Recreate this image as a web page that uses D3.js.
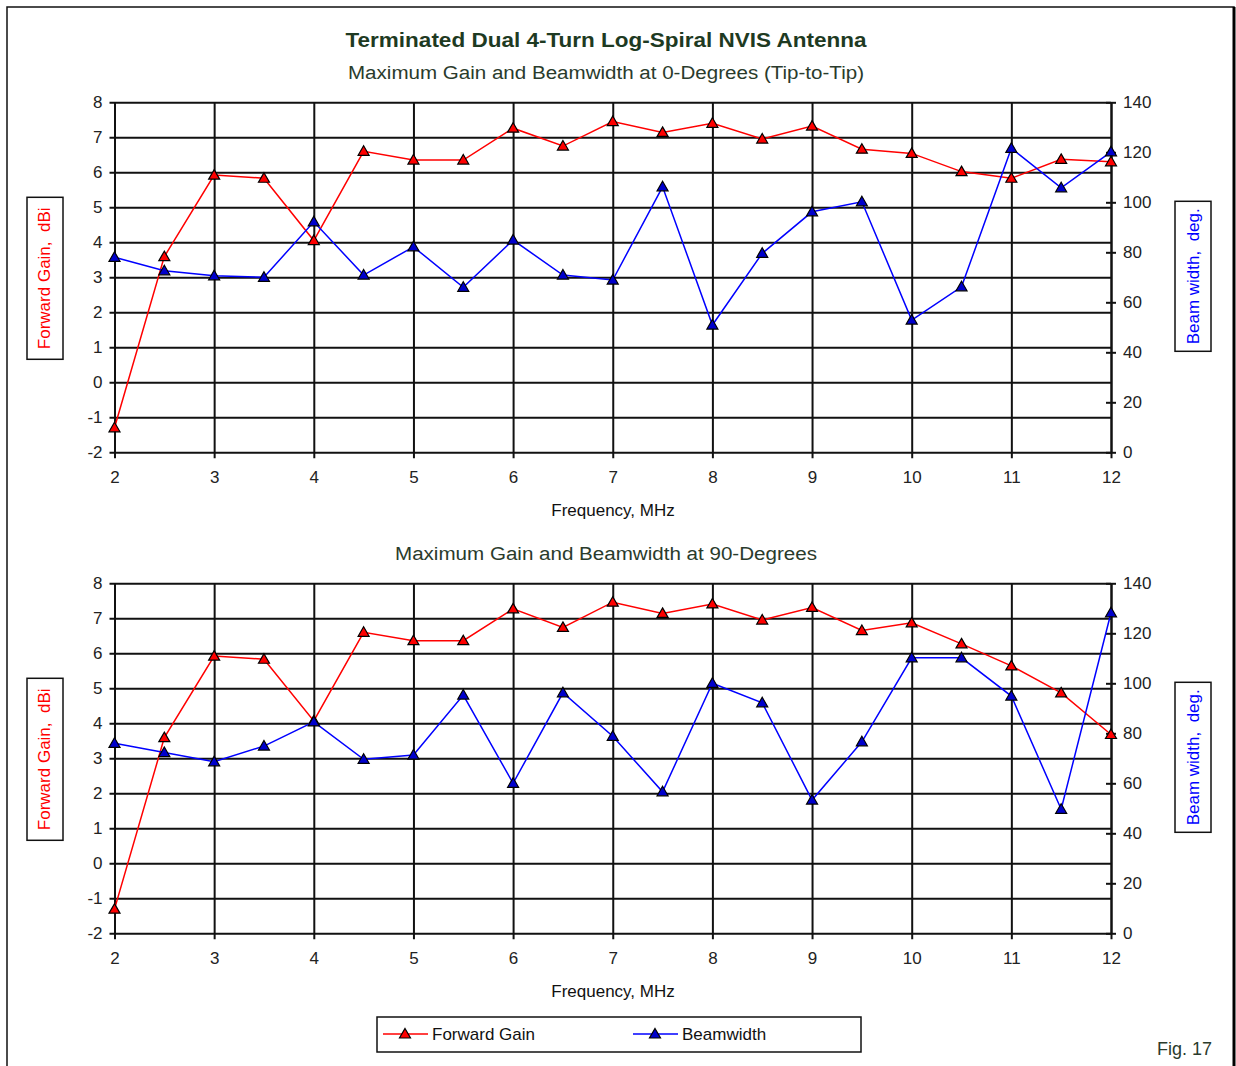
<!DOCTYPE html>
<html>
<head>
<meta charset="utf-8">
<script src="https://cdn.jsdelivr.net/npm/d3@7"></script>
<style>
  body { margin: 0; background: #fff; }
  svg { display: block; font-family: "Liberation Sans", Arial, sans-serif; }
</style>
</head>
<body>
<div id="chart"></div>
<script>
// frequency points, MHz
const freq = [2, 2.5, 3, 3.5, 4, 4.5, 5, 5.5, 6, 6.5, 7, 7.5, 8, 8.5, 9, 9.5, 10, 10.5, 11, 11.5, 12];

// 0-degree (tip-to-tip) panel
const gain0 = [-1.3, 3.59, 5.92, 5.83, 4.05, 6.6, 6.35, 6.35, 7.26, 6.75, 7.45, 7.14, 7.4, 6.95, 7.32, 6.66, 6.54, 6.02, 5.83, 6.37, 6.3];
const beam0 = [78, 72.6, 70.6, 70, 92.2, 70.9, 82.2, 66, 84.9, 70.9, 68.9, 106.2, 50.9, 79.6, 96.2, 100.2, 52.9, 66.2, 121.6, 105.8, 120.2];

// 90-degree panel
const gain90 = [-1.31, 3.59, 5.92, 5.83, 4.07, 6.6, 6.36, 6.36, 7.27, 6.74, 7.46, 7.14, 7.41, 6.95, 7.31, 6.65, 6.87, 6.27, 5.64, 4.87, 3.68];
const beam90 = [76, 72.3, 68.6, 74.9, 84.6, 69.6, 71.3, 95.3, 60, 96.2, 78.8, 56.6, 100, 92.2, 53.3, 76.6, 110.2, 110.2, 94.9, 49.6, 128.2];

const freqTicks = [2, 3, 4, 5, 6, 7, 8, 9, 10, 11, 12];
const gainTicks = [-2, -1, 0, 1, 2, 3, 4, 5, 6, 7, 8];
const beamTicks = [0, 20, 40, 60, 80, 100, 120, 140];

const width = 1236, height = 1066;
const plotLeft = 114.5, plotRight = 1111;
const titleColor = '#1e3a22';
const plain = d => String(d); // keep ascii hyphen for negatives, like the original

const svg = d3.select('#chart').append('svg')
    .attr('width', width).attr('height', height);

// outer frame
svg.append('rect')
    .attr('x', 7).attr('y', 7).attr('width', 1227).attr('height', 1075)
    .attr('fill', 'none').attr('stroke', '#111').attr('stroke-width', 1.5);
svg.append('line')
    .attr('x1', 1234).attr('x2', 1234).attr('y1', 7).attr('y2', height)
    .attr('stroke', '#000').attr('stroke-width', 3);

const x = d3.scaleLinear().domain([2, 12]).range([plotLeft, plotRight]);

// triangle marker, point at centre
const tri = 'M0,-5.5 L5.5,4 L-5.5,4 Z';

svg.append('text')
    .attr('x', 606).attr('y', 47)
    .attr('text-anchor', 'middle')
    .attr('font-size', 21).attr('font-weight', 'bold')
    .attr('fill', titleColor)
    .attr('textLength', 521).attr('lengthAdjust', 'spacingAndGlyphs')
    .text('Terminated Dual 4-Turn Log-Spiral NVIS Antenna');

function drawPanel(top, subtitle, gain, beam) {
    const bottom = top + 350;
    const yL = d3.scaleLinear().domain([-2, 8]).range([bottom, top]);
    const yR = d3.scaleLinear().domain([0, 140]).range([bottom, top]);
    const g = svg.append('g');

    g.append('text')
        .attr('x', 606).attr('y', top - 23)
        .attr('text-anchor', 'middle')
        .attr('font-size', 18)
        .attr('fill', '#2a3b2c')
        .attr('textLength', subtitle.length > 45 ? 516 : 422).attr('lengthAdjust', 'spacingAndGlyphs')
        .text(subtitle);

    // horizontal grid from left axis
    g.append('g').call(d3.axisLeft(yL).tickValues(gainTicks).tickFormat(plain).tickSize(-(plotRight - plotLeft)).tickSizeOuter(0).tickPadding(12))
        .attr('transform', 'translate(' + plotLeft + ',0)')
        .call(a => a.select('.domain').remove())
        .call(a => a.selectAll('line').attr('stroke', '#111').attr('stroke-width', 2).attr('x1', -5))
        .call(a => a.selectAll('text').attr('font-size', 17).attr('fill', '#222').attr('font-family', '"Liberation Sans", Arial, sans-serif'));

    // vertical grid from x axis
    g.append('g').call(d3.axisBottom(x).tickValues(freqTicks).tickFormat(plain).tickSize(-(bottom - top)).tickSizeOuter(0).tickPadding(19))
        .attr('transform', 'translate(0,' + bottom + ')')
        .call(a => a.select('.domain').remove())
        .call(a => a.selectAll('line').attr('stroke', '#111').attr('stroke-width', 2).attr('y1', 6))
        .call(a => a.selectAll('text').attr('font-size', 17).attr('fill', '#222').attr('font-family', '"Liberation Sans", Arial, sans-serif'));

    // right axis ticks
    g.append('g').call(d3.axisRight(yR).tickValues(beamTicks).tickFormat(plain).tickSize(5).tickSizeOuter(0).tickPadding(7))
        .attr('transform', 'translate(' + plotRight + ',0)')
        .call(a => a.select('.domain').attr('stroke', '#111').attr('stroke-width', 2))
        .call(a => a.selectAll('line').attr('stroke', '#111').attr('stroke-width', 2).attr('x1', -5))
        .call(a => a.selectAll('text').attr('font-size', 17).attr('fill', '#222').attr('font-family', '"Liberation Sans", Arial, sans-serif'));

    g.append('text')
        .attr('x', 613).attr('y', bottom + 64)
        .attr('text-anchor', 'middle')
        .attr('font-size', 17).attr('fill', '#111')
        .text('Frequency, MHz');

    // axis title boxes
    g.append('rect').attr('x', 27).attr('y', top + 95).attr('width', 36).attr('height', 162)
        .attr('fill', 'none').attr('stroke', '#111').attr('stroke-width', 1.5);
    g.append('text')
        .attr('transform', 'translate(50,' + (top + 176) + ') rotate(-90)')
        .attr('text-anchor', 'middle').attr('font-size', 17).attr('fill', '#ff0000')
        .attr('xml:space', 'preserve')
        .text('Forward Gain,  dBi');

    g.append('rect').attr('x', 1175).attr('y', top + 99).attr('width', 36).attr('height', 150)
        .attr('fill', 'none').attr('stroke', '#111').attr('stroke-width', 1.5);
    g.append('text')
        .attr('transform', 'translate(1199,' + (top + 174) + ') rotate(-90)')
        .attr('text-anchor', 'middle').attr('font-size', 17).attr('fill', '#0000ff')
        .attr('xml:space', 'preserve')
        .text('Beam width,  deg.');

    const series = [
        { vals: gain, y: yL, color: '#ff0000', fill: '#ff0000' },
        { vals: beam, y: yR, color: '#0000ff', fill: '#0000cc' }
    ];
    series.forEach(s => {
        const pts = freq.map((f, i) => ({ f: f, v: s.vals[i] }));
        g.append('path')
            .datum(pts)
            .attr('fill', 'none')
            .attr('stroke', s.color)
            .attr('stroke-width', 1.5)
            .attr('d', d3.line().x(d => x(d.f)).y(d => s.y(d.v)));
        g.selectAll(null)
            .data(pts)
            .enter()
            .append('path')
            .attr('d', tri)
            .attr('transform', d => 'translate(' + x(d.f) + ',' + s.y(d.v) + ')')
            .attr('fill', s.fill)
            .attr('stroke', '#000')
            .attr('stroke-width', 1.2);
    });
}

drawPanel(102.3, 'Maximum Gain and Beamwidth at 0-Degrees (Tip-to-Tip)', gain0, beam0);
drawPanel(583.3, 'Maximum Gain and Beamwidth at 90-Degrees', gain90, beam90);

// legend
const legendItems = [
    { label: 'Forward Gain', color: '#ff0000', fill: '#ff0000', x0: 383 },
    { label: 'Beamwidth', color: '#0000ff', fill: '#0000cc', x0: 633 }
];
const legend = svg.append('g');
legend.append('rect').attr('x', 377).attr('y', 1017).attr('width', 484).attr('height', 35)
    .attr('fill', '#fff').attr('stroke', '#111').attr('stroke-width', 1.5);
legendItems.forEach(d => {
    legend.append('line').attr('x1', d.x0).attr('x2', d.x0 + 45).attr('y1', 1034).attr('y2', 1034)
        .attr('stroke', d.color).attr('stroke-width', 1.5);
    legend.append('path').attr('d', tri)
        .attr('transform', 'translate(' + (d.x0 + 22) + ',1034)')
        .attr('fill', d.fill).attr('stroke', '#000').attr('stroke-width', 1.2);
    legend.append('text').attr('x', d.x0 + 49).attr('y', 1040)
        .attr('font-size', 17).attr('fill', '#111').text(d.label);
});

svg.append('text')
    .attr('x', 1212).attr('y', 1055)
    .attr('text-anchor', 'end')
    .attr('font-size', 18).attr('fill', '#2a3b2c')
    .text('Fig. 17');
</script>
</body>
</html>
